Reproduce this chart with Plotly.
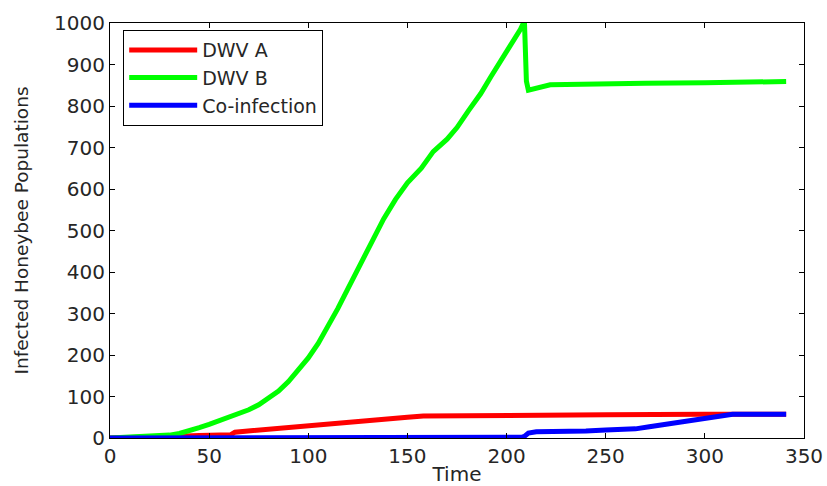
import plotly.graph_objects as go

# DWV B (green)
b_x = [0, 10, 20, 30, 35, 40, 45, 50, 55, 60, 65, 70, 75, 80, 85, 90, 95, 100, 105, 110,
       115, 120, 126, 132, 138, 144, 150, 157, 163, 170, 175, 181, 187, 192, 197, 202, 207,
       209, 210, 211, 216, 222, 230, 240, 252, 270, 300, 334, 341]
b_y = [0, 2, 4, 7, 11, 17, 25, 33, 42, 50, 58, 68, 80, 96, 113, 136, 163, 193, 228, 268,
       313, 360, 415, 470, 528, 575, 615, 650, 690, 720, 748, 790, 830, 870, 908, 945, 985,
       1005, 860, 838, 845, 851, 852, 853, 855, 855, 856, 857, 859]

# DWV A (red)
a_x = [0, 20, 35, 45, 55, 61, 63, 70, 80, 90, 100, 110, 120, 130, 140, 150, 158, 170, 190,
       209, 210, 250, 300, 341]
a_y = [0, 1, 4, 6, 7, 8, 14, 17, 22, 27, 31, 35, 38, 42, 46, 50, 53, 53, 53,
       53, 56, 56, 57, 57]

# Co-infection (blue)
c_x = [0, 130, 132, 208, 209, 211, 215, 238, 240, 250, 265, 272, 285, 296, 305, 310, 314, 341]
c_y = [0, 0, 2, 2, 4, 12, 15, 15, 17, 19, 22, 27, 36, 44, 48, 52, 57, 57]

x_ticks = [0, 50, 100, 150, 200, 250, 300, 350]
y_ticks = [0, 100, 200, 300, 400, 500, 600, 700, 800, 900, 1000]

FONT = "DejaVu Sans"
TXT = "#262626"

fig = go.Figure()
fig.add_trace(go.Scatter(x=a_x, y=a_y, mode="lines", name="DWV A",
                         line=dict(color="#ff0000", width=5)))
fig.add_trace(go.Scatter(x=b_x, y=b_y, mode="lines", name="DWV B",
                         line=dict(color="#00ff00", width=5)))
fig.add_trace(go.Scatter(x=c_x, y=c_y, mode="lines", name="Co-infection",
                         line=dict(color="#0000ff", width=5)))

axis_common = dict(showline=True, linecolor="black", linewidth=1, mirror="allticks",
                   ticks="inside", ticklen=5, tickcolor="black", showgrid=False,
                   zeroline=False, automargin=False,
                   tickfont=dict(family=FONT, size=20, color=TXT))

fig.update_layout(
    width=827, height=486,
    margin=dict(l=110, r=23, t=23, b=48),
    paper_bgcolor="white", plot_bgcolor="white",
    xaxis=dict(range=[0, 350], tickvals=x_ticks, ticktext=[str(v) for v in x_ticks],
               title=dict(text="Time", font=dict(family=FONT, size=20, color=TXT),
                          standoff=7),
               **axis_common),
    yaxis=dict(range=[0, 1000], tickvals=y_ticks, ticktext=[str(v) for v in y_ticks],
               title=dict(text="Infected Honeybee Populations",
                          font=dict(family=FONT, size=18.5, color=TXT),
                          standoff=20),
               **axis_common),
    showlegend=True,
    legend=dict(x=0.019, y=0.983, xanchor="left", yanchor="top",
                bgcolor="white", bordercolor="black", borderwidth=1,
                font=dict(family=FONT, size=19, color=TXT),
                itemwidth=68, tracegroupgap=0),
)

fig.write_html("out.html")
